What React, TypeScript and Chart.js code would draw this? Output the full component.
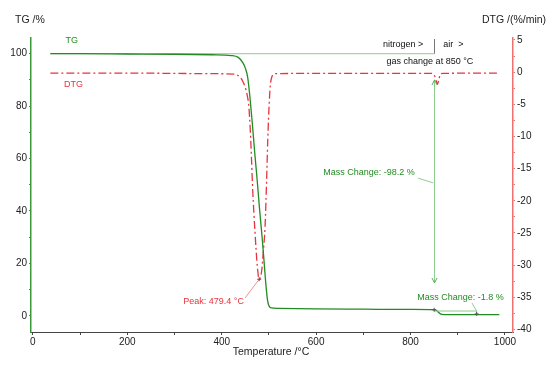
import React, { useEffect, useRef } from 'react';
import { Chart, registerables } from 'chart.js';
Chart.register(...registerables);

// ---- data ----
const tgTemp = [37, 100, 200, 300, 380, 420, 435, 445, 450, 455, 460, 465, 470, 475, 480, 486, 490, 494, 497, 500, 505, 520, 600, 700, 800, 850, 855, 860, 866, 880, 988];
const tgValue = [100, 100, 99.9, 99.8, 99.6, 99.3, 98.6, 96.5, 94.5, 91, 83, 73, 62, 52, 41, 29, 20, 11, 6, 3.8, 3.0, 2.8, 2.6, 2.5, 2.4, 2.3, 2.0, 1.2, 0.5, 0.4, 0.4];

const dtgTemp = [37, 100, 200, 300, 380, 425, 439, 445, 450, 454, 457, 459, 461.5, 465.7, 470.6, 475.5, 479.4, 484.8, 488, 491.8, 495, 497.5, 500.9, 503, 506, 513, 600, 700, 800, 845, 851, 855, 857, 860, 863, 870, 983];
const dtgValue = [-0.15, -0.15, -0.15, -0.2, -0.25, -0.3, -0.8, -1.5, -2.4, -3.6, -5, -7, -10.6, -18.4, -25, -30.3, -32.2, -30.8, -28, -24, -17, -10.6, -4.4, -2, -0.8, -0.25, -0.2, -0.2, -0.2, -0.2, -0.6, -1.5, -1.9, -1.2, -0.3, -0.2, -0.15];

const refTemp = [37, 850];
const refValue = [100, 100];

const xTicks = [0, 100, 200, 300, 400, 500, 600, 700, 800, 900, 1000];
const tgTicks = [0, 10, 20, 30, 40, 50, 60, 70, 80, 90, 100];
const dtgTicks = [-40, -37.5, -35, -32.5, -30, -27.5, -25, -22.5, -20, -17.5, -15, -12.5, -10, -7.5, -5, -2.5, 0, 2.5, 5];

const gasChangeTemp = 850;
const peakTemp = 479.4;
const peakDtg = -32.2;
const mainChangeTG = [90, 12.5];
const smallChange = { from: 850, to: 940, level: 1.8, end: 0.3 };

const GREEN = '#228b22';
const LIGHT_GREEN = '#8fcc8f';
const RED = '#e8343c';
const AXIS_RED = '#f07070';
const AXIS_GREEN = '#3a9a3a';
const TEXT = '#222';
const FONT = '"Liberation Sans", Arial, sans-serif';

const annotationPlugin = {
  id: 'annos',
  afterDraw(chart: any) {
    const ctx = chart.ctx;
    const xs = chart.scales.x;
    const yt = chart.scales.y;
    const yd = chart.scales.y2;
    const px = (t: number) => xs.getPixelForValue(t);
    const pt = (v: number) => yt.getPixelForValue(v);
    const pd = (v: number) => yd.getPixelForValue(v);
    const area = chart.chartArea;
    ctx.save();

    // axis titles
    ctx.fillStyle = TEXT;
    ctx.font = `10.5px ${FONT}`;
    ctx.textBaseline = 'middle';
    ctx.textAlign = 'center';
    ctx.fillText('TG /%', 30, 20);
    ctx.fillText('DTG /(%/min)', 514, 20);
    ctx.fillText('Temperature /°C', (area.left + area.right) / 2 - 1, 352);

    ctx.font = `9px ${FONT}`;
    // series labels
    ctx.textAlign = 'left';
    ctx.fillStyle = GREEN;
    ctx.fillText('TG', px(69), pt(105.2));
    ctx.fillStyle = RED;
    ctx.fillText('DTG', px(66), pd(-1.96));

    // gas change separator
    ctx.strokeStyle = '#777';
    ctx.lineWidth = 1;
    ctx.beginPath();
    ctx.moveTo(Math.round(px(gasChangeTemp)) + 0.5, area.top + 1);
    ctx.lineTo(Math.round(px(gasChangeTemp)) + 0.5, pt(100));
    ctx.stroke();
    ctx.fillStyle = '#111';
    ctx.textAlign = 'right';
    ctx.fillText('nitrogen >', px(827), pt(103.7));
    ctx.textAlign = 'left';
    ctx.fillText('air  >', px(869), pt(103.7));
    ctx.textAlign = 'center';
    ctx.fillText('gas change at 850 °C', px(841), pt(96.9));

    // main mass change arrow
    const ax = Math.round(px(gasChangeTemp)) + 0.5;
    const aTop = pt(mainChangeTG[0]);
    const aBot = pt(mainChangeTG[1]);
    ctx.strokeStyle = LIGHT_GREEN;
    ctx.lineWidth = 1;
    ctx.beginPath();
    ctx.moveTo(ax, aTop);
    ctx.lineTo(ax, aBot);
    ctx.stroke();
    ctx.strokeStyle = '#5aa85a';
    ctx.beginPath();
    ctx.moveTo(ax - 2.5, aTop + 5);
    ctx.lineTo(ax, aTop);
    ctx.lineTo(ax + 2.5, aTop + 5);
    ctx.moveTo(ax - 2.5, aBot - 5);
    ctx.lineTo(ax, aBot);
    ctx.lineTo(ax + 2.5, aBot - 5);
    ctx.stroke();
    // leader
    ctx.strokeStyle = LIGHT_GREEN;
    ctx.beginPath();
    ctx.moveTo(px(816), pt(52.5));
    ctx.lineTo(px(848), pt(50.7));
    ctx.stroke();
    ctx.fillStyle = GREEN;
    ctx.textAlign = 'left';
    ctx.fillText('Mass Change: -98.2 %', px(615), pt(54.8));

    // small mass change
    ctx.strokeStyle = LIGHT_GREEN;
    ctx.beginPath();
    ctx.moveTo(px(smallChange.from), pt(smallChange.level));
    ctx.lineTo(px(smallChange.to), pt(smallChange.level));
    ctx.lineTo(px(smallChange.to), pt(smallChange.end));
    ctx.moveTo(px(930), pt(4.9));
    ctx.lineTo(px(smallChange.to), pt(smallChange.level));
    ctx.stroke();
    ctx.strokeStyle = '#555';
    const cross = (x: number, y: number) => {
      ctx.beginPath();
      ctx.moveTo(x - 2, y);
      ctx.lineTo(x + 2, y);
      ctx.moveTo(x, y - 2);
      ctx.lineTo(x, y + 2);
      ctx.stroke();
    };
    cross(px(smallChange.from), pt(2.3));
    cross(px(smallChange.to), pt(smallChange.end + 0.4));
    ctx.fillStyle = GREEN;
    ctx.fillText('Mass Change: -1.8 %', px(814), pt(7.1));

    // peak
    ctx.strokeStyle = '#f09090';
    ctx.beginPath();
    ctx.moveTo(px(449.5), pt(6.8));
    ctx.lineTo(px(peakTemp), pd(peakDtg));
    ctx.stroke();
    ctx.strokeStyle = '#555';
    cross(px(peakTemp), pd(peakDtg));
    ctx.fillStyle = RED;
    ctx.fillText('Peak: 479.4 °C', px(318.6), pt(5.3));

    ctx.restore();
  },
};

export default function App() {
  const ref = useRef<HTMLCanvasElement | null>(null);
  useEffect(() => {
    if (!ref.current) return;
    const tickFont = { family: FONT, size: 10 };
    const chart = new Chart(ref.current, {
      type: 'line',
      data: {
        datasets: [
          {
            label: 'TG',
            data: tgTemp.map((t, i) => ({ x: t, y: tgValue[i] })),
            yAxisID: 'y',
            borderColor: GREEN,
            borderWidth: 1.3,
            pointRadius: 0,
            cubicInterpolationMode: 'monotone',
            fill: false,
          },
          {
            label: 'DTG',
            data: dtgTemp.map((t, i) => ({ x: t, y: dtgValue[i] })),
            yAxisID: 'y2',
            borderColor: RED,
            borderWidth: 1.3,
            borderDash: [8, 3, 2, 3],
            pointRadius: 0,
            cubicInterpolationMode: 'monotone',
            fill: false,
          },
          {
            label: 'ref',
            data: refTemp.map((t, i) => ({ x: t, y: refValue[i] })),
            yAxisID: 'y',
            borderColor: LIGHT_GREEN,
            borderWidth: 1,
            pointRadius: 0,
            fill: false,
          },
        ],
      },
      options: {
        animation: false,
        responsive: true,
        maintainAspectRatio: false,
        layout: { padding: { top: 38, left: 0, right: 0, bottom: 0 } },
        plugins: { legend: { display: false }, tooltip: { enabled: false } },
        events: [],
        scales: {
          x: {
            type: 'linear',
            position: 'bottom',
            min: -4,
            max: 1017,
            afterBuildTicks: (s: any) => { s.ticks = xTicks.map((v) => ({ value: v })); },
            afterFit: (s: any) => { s.height = 33; },
            grid: { drawOnChartArea: false, drawTicks: true, tickLength: 3, color: '#444' },
            border: { color: '#444', width: 1 },
            ticks: {
              autoSkip: false,
              maxRotation: 0,
              padding: 1,
              color: TEXT,
              font: tickFont,
              callback: (v: any) => (v % 200 === 0 ? String(v) : ''),
            },
          },
          y: {
            type: 'linear',
            position: 'left',
            min: -6.2,
            max: 106,
            afterBuildTicks: (s: any) => { s.ticks = tgTicks.map((v) => ({ value: v })); },
            afterFit: (s: any) => { s.width = 31; },
            grid: { drawOnChartArea: false, drawTicks: true, tickLength: 2, color: AXIS_GREEN },
            border: { color: AXIS_GREEN, width: 1.5 },
            ticks: {
              autoSkip: false,
              padding: 2,
              color: TEXT,
              font: tickFont,
              callback: (v: any) => (v % 20 === 0 ? String(v) : ''),
            },
          },
          y2: {
            type: 'linear',
            position: 'right',
            min: -40.4,
            max: 5.3,
            afterBuildTicks: (s: any) => { s.ticks = dtgTicks.map((v) => ({ value: v })); },
            afterFit: (s: any) => { s.width = 36; },
            grid: { drawOnChartArea: false, drawTicks: true, tickLength: 2, color: AXIS_RED },
            border: { color: AXIS_RED, width: 1.5 },
            ticks: {
              autoSkip: false,
              padding: 2,
              color: TEXT,
              font: tickFont,
              callback: (v: any) => (v % 5 === 0 ? String(v) : ''),
            },
          },
        },
      } as any,
      plugins: [annotationPlugin],
    });
    return () => chart.destroy();
  }, []);
  return (
    <div style={{ position: 'fixed', left: 0, top: 0, width: 549, height: 365, background: '#fff' }}>
      <canvas ref={ref} />
    </div>
  );
}
